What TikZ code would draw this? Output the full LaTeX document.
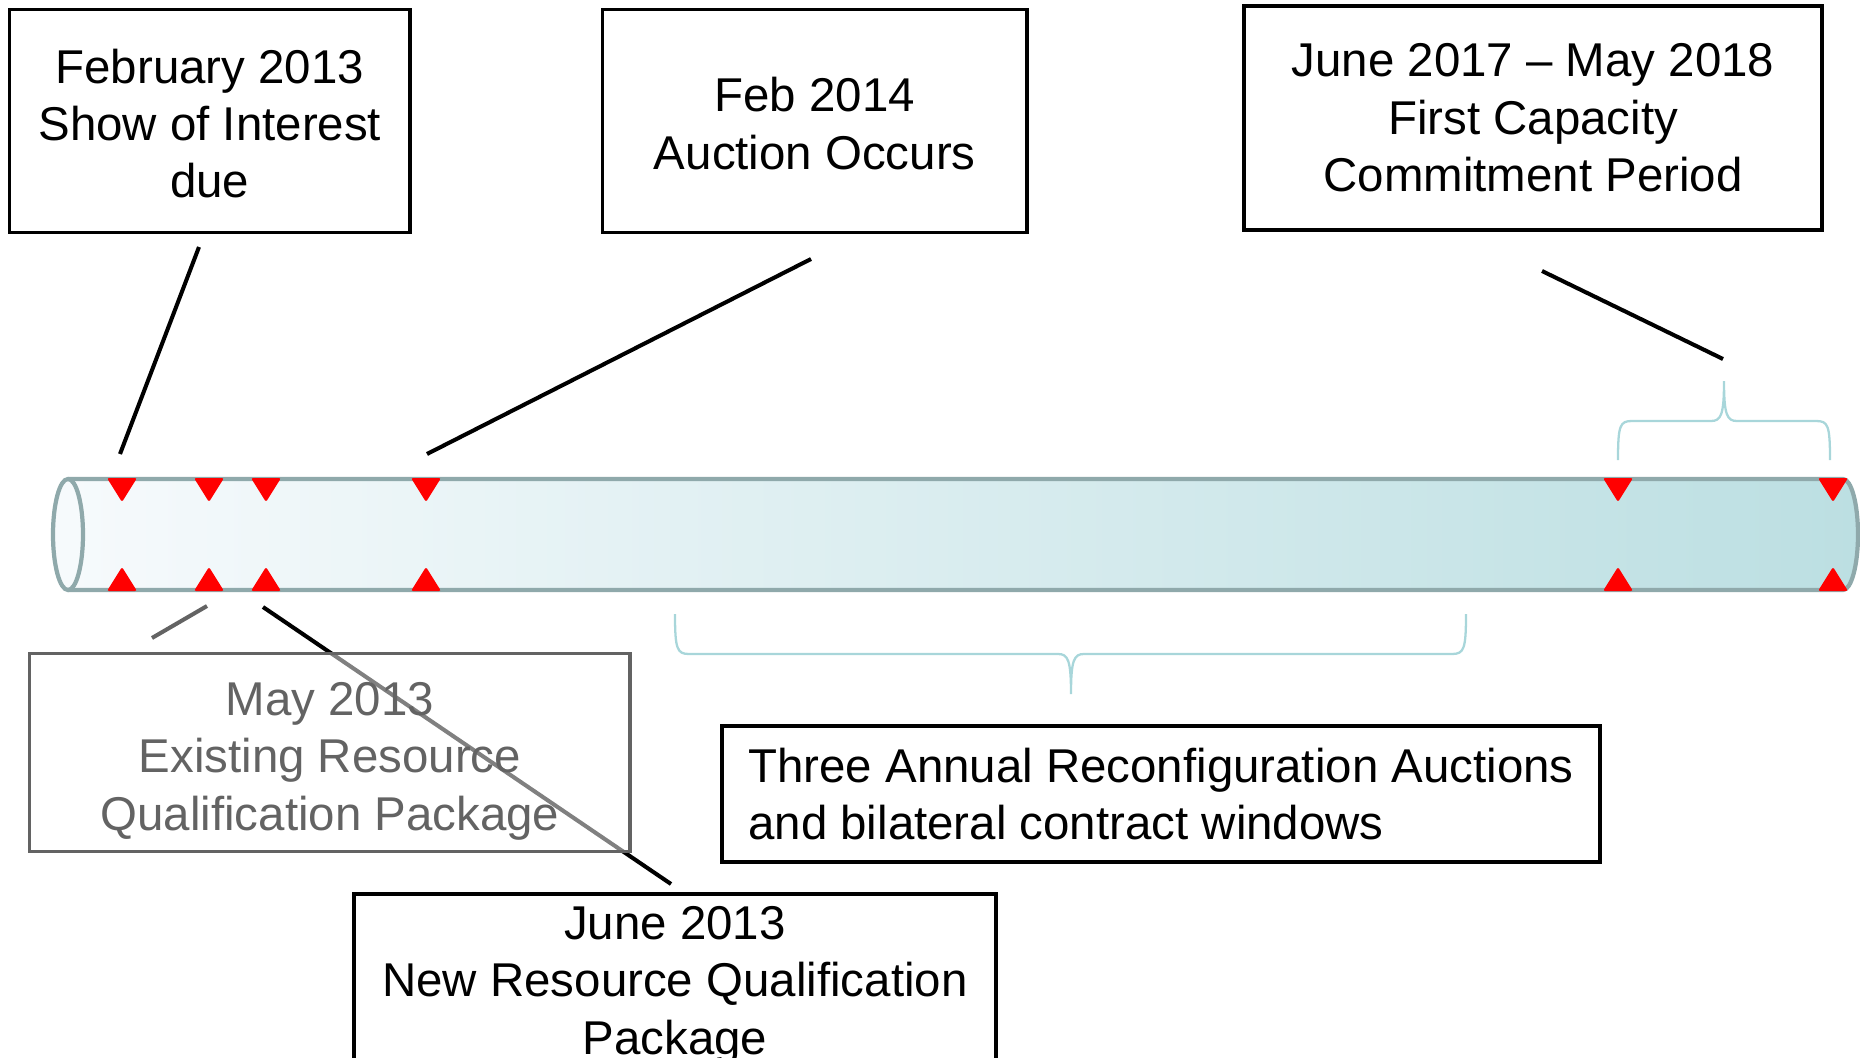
\documentclass[tikz,border=0pt]{standalone}
\usepackage{fontspec}
\setmainfont{Liberation Sans}
\definecolor{tubeedge}{HTML}{8FA9AB}
\definecolor{tubeleft}{HTML}{F6FAFC}
\definecolor{tuberight}{HTML}{BCDFE2}
\definecolor{bracecol}{HTML}{A8D6DA}
\definecolor{dimgray}{HTML}{636363}
\tikzset{
      datebox/.style={
        draw=black,
        line width=2pt,
        align=center,
        inner sep=0pt,
        font=\fontsize{27}{32.7}\selectfont
      },
      dimbox/.style={
        datebox,
        draw=dimgray,
        text=dimgray,
        fill=white,
        fill opacity=0.5,
        text opacity=1
      },
      leader/.style={line width=2.3pt, black},
      marker/.style={fill=red, rounded corners=1.2pt},
      bracket/.style={draw=bracecol, line width=1.3pt}
    }

\begin{document}
\begin{tikzpicture}[x=0.02cm,y=-0.02cm]
    \useasboundingbox (0,0) rectangle (1860,1058);
    \shade[left color=tubeleft, right color=tuberight] (68,479) -- (1843,479) arc[start angle=-90, end angle=90, x radius=15, y radius=55.5] -- (68,590) -- cycle;
    \draw[tubeedge, line width=2.4pt] (68,479) -- (1843,479) arc[start angle=-90, end angle=90, x radius=15, y radius=55.5] -- (68,590);
    \draw[tubeedge, line width=2.4pt, fill=tubeleft] (68,534.5) ellipse[x radius=15, y radius=55.5];
    \foreach \mx in {122,209,266,426,1618,1833} {
      \fill[marker] (\mx-15,478) -- (\mx+15,478) -- (\mx,502) -- cycle;
      \fill[marker] (\mx-15,591) -- (\mx+15,591) -- (\mx,567) -- cycle;
    }
    \draw[bracket] (1618,460) .. controls (1618,425) and (1620,421) .. (1632,421) -- (1711,421) .. controls (1721,421) and (1724,415) .. (1724,381) .. controls (1724,415) and (1727,421) .. (1737,421) -- (1816,421) .. controls (1828,421) and (1830,425) .. (1830,460);
    \draw[bracket] (675,614) .. controls (675,649) and (677,654) .. (689,654) -- (1058,654) .. controls (1068,654) and (1071,660) .. (1071,694) .. controls (1071,660) and (1074,654) .. (1084,654) -- (1452,654) .. controls (1464,654) and (1466,649) .. (1466,614);
    \node[datebox, minimum width=8.01cm, minimum height=4.46cm] (showint) at (209.8,121) {\raisebox{0pt}[22.5pt]{February 2013}\\Show of Interest\\due};
    \node[datebox, minimum width=8.49cm, minimum height=4.46cm] (auction) at (814.8,121) {\raisebox{0pt}[22.5pt]{Feb 2014}\\Auction Occurs};
    \node[datebox, minimum width=11.56cm, minimum height=4.48cm] (commit) at (1533,118) {June 2017 -- May 2018\\First Capacity\\Commitment Period};
    \node[datebox, align=left, minimum width=17.56cm, minimum height=2.72cm] (reconfig) at (1161,794) {Three Annual Reconfiguration Auctions\\and bilateral contract windows};
    \node[datebox, anchor=north, minimum width=12.85cm, minimum height=3.46cm] (newres) at (675,892) {\raisebox{0pt}[24.5pt]{June 2013}\\New Resource Qualification\\Package};
    \coordinate (t0) at (199,247);  \coordinate (b0) at (120,454);
    \coordinate (t1) at (811,259);  \coordinate (b1) at (427,454);
    \coordinate (t2) at (1542,271); \coordinate (b2) at (1723,359);
    \coordinate (t3) at (207,606);  \coordinate (b3) at (152,638);
    \coordinate (t4) at (263,607);  \coordinate (b4) at (671,884);
    \draw[leader] (t0) -- (b0);
    \draw[leader] (t1) -- (b1);
    \draw[leader] (t2) -- (b2);
    \draw[leader, dimgray] (t3) -- (b3);
    \draw[leader] (t4) -- (b4);
    \node[dimbox, minimum width=12.01cm, minimum height=3.96cm] (existres) at (329.9,752.7) {\raisebox{0pt}[28.5pt]{May 2013}\\Existing Resource\\Qualification Package};
    \end{tikzpicture}
\end{document}
